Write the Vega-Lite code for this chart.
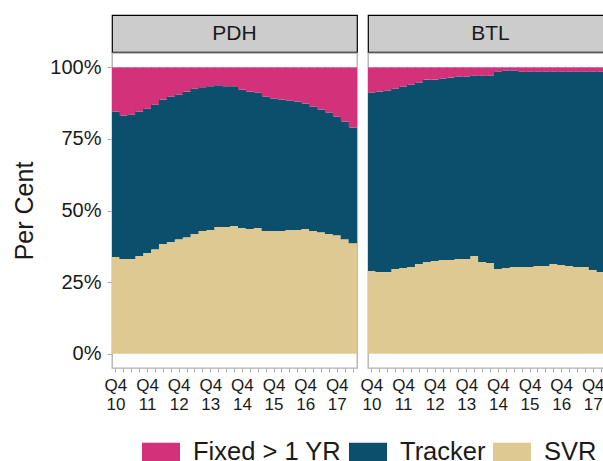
{
  "$schema": "https://vega.github.io/schema/vega-lite/v6.json",
  "padding": {"left": 12, "top": 14, "right": 0, "bottom": 0},
  "config": {
    "font": "Liberation Sans",
    "view": {"stroke": "#ADADAD", "strokeWidth": 1.3},
    "concat": {"spacing": 1},
    "axis": {"grid": false, "domain": false, "labelColor": "#1A1A1A", "titleColor": "#1A1A1A", "tickColor": "#ADADAD", "titleFontWeight": "normal"}
  },
  "datasets": {
    "shares": [
      {"panel": "PDH", "q": "Q4 10", "Fixed > 1 YR": 15.4, "Tracker": 50.8, "SVR": 33.8},
      {"panel": "PDH", "q": "Q1 11", "Fixed > 1 YR": 16.8, "Tracker": 50.1, "SVR": 33.1},
      {"panel": "PDH", "q": "Q2 11", "Fixed > 1 YR": 16.5, "Tracker": 50.4, "SVR": 33.1},
      {"panel": "PDH", "q": "Q3 11", "Fixed > 1 YR": 15.4, "Tracker": 50.5, "SVR": 34.1},
      {"panel": "PDH", "q": "Q4 11", "Fixed > 1 YR": 14.4, "Tracker": 50.4, "SVR": 35.2},
      {"panel": "PDH", "q": "Q1 12", "Fixed > 1 YR": 13.0, "Tracker": 50.5, "SVR": 36.5},
      {"panel": "PDH", "q": "Q2 12", "Fixed > 1 YR": 11.2, "Tracker": 50.5, "SVR": 38.3},
      {"panel": "PDH", "q": "Q3 12", "Fixed > 1 YR": 10.2, "Tracker": 50.8, "SVR": 39.0},
      {"panel": "PDH", "q": "Q4 12", "Fixed > 1 YR": 9.5, "Tracker": 50.5, "SVR": 40.0},
      {"panel": "PDH", "q": "Q1 13", "Fixed > 1 YR": 8.5, "Tracker": 50.8, "SVR": 40.7},
      {"panel": "PDH", "q": "Q2 13", "Fixed > 1 YR": 7.4, "Tracker": 50.8, "SVR": 41.8},
      {"panel": "PDH", "q": "Q3 13", "Fixed > 1 YR": 7.0, "Tracker": 50.2, "SVR": 42.8},
      {"panel": "PDH", "q": "Q4 13", "Fixed > 1 YR": 6.6, "Tracker": 50.2, "SVR": 43.2},
      {"panel": "PDH", "q": "Q1 14", "Fixed > 1 YR": 6.3, "Tracker": 49.5, "SVR": 44.2},
      {"panel": "PDH", "q": "Q2 14", "Fixed > 1 YR": 6.6, "Tracker": 49.2, "SVR": 44.2},
      {"panel": "PDH", "q": "Q3 14", "Fixed > 1 YR": 6.6, "Tracker": 48.8, "SVR": 44.6},
      {"panel": "PDH", "q": "Q4 14", "Fixed > 1 YR": 7.8, "Tracker": 48.3, "SVR": 43.9},
      {"panel": "PDH", "q": "Q1 15", "Fixed > 1 YR": 8.5, "Tracker": 48.0, "SVR": 43.5},
      {"panel": "PDH", "q": "Q2 15", "Fixed > 1 YR": 8.8, "Tracker": 47.3, "SVR": 43.9},
      {"panel": "PDH", "q": "Q3 15", "Fixed > 1 YR": 10.2, "Tracker": 47.0, "SVR": 42.8},
      {"panel": "PDH", "q": "Q4 15", "Fixed > 1 YR": 10.9, "Tracker": 46.3, "SVR": 42.8},
      {"panel": "PDH", "q": "Q1 16", "Fixed > 1 YR": 11.2, "Tracker": 46.0, "SVR": 42.8},
      {"panel": "PDH", "q": "Q2 16", "Fixed > 1 YR": 11.6, "Tracker": 45.2, "SVR": 43.2},
      {"panel": "PDH", "q": "Q3 16", "Fixed > 1 YR": 11.9, "Tracker": 44.9, "SVR": 43.2},
      {"panel": "PDH", "q": "Q4 16", "Fixed > 1 YR": 12.6, "Tracker": 43.9, "SVR": 43.5},
      {"panel": "PDH", "q": "Q1 17", "Fixed > 1 YR": 13.7, "Tracker": 43.5, "SVR": 42.8},
      {"panel": "PDH", "q": "Q2 17", "Fixed > 1 YR": 14.7, "Tracker": 42.9, "SVR": 42.4},
      {"panel": "PDH", "q": "Q3 17", "Fixed > 1 YR": 15.8, "Tracker": 42.4, "SVR": 41.8},
      {"panel": "PDH", "q": "Q4 17", "Fixed > 1 YR": 17.2, "Tracker": 41.4, "SVR": 41.4},
      {"panel": "PDH", "q": "Q1 18", "Fixed > 1 YR": 18.9, "Tracker": 41.1, "SVR": 40.0},
      {"panel": "PDH", "q": "Q2 18", "Fixed > 1 YR": 21.0, "Tracker": 40.4, "SVR": 38.6},
      {"panel": "BTL", "q": "Q4 10", "Fixed > 1 YR": 8.8, "Tracker": 62.3, "SVR": 28.9},
      {"panel": "BTL", "q": "Q1 11", "Fixed > 1 YR": 8.5, "Tracker": 63.0, "SVR": 28.5},
      {"panel": "BTL", "q": "Q2 11", "Fixed > 1 YR": 8.1, "Tracker": 63.4, "SVR": 28.5},
      {"panel": "BTL", "q": "Q3 11", "Fixed > 1 YR": 7.4, "Tracker": 63.0, "SVR": 29.6},
      {"panel": "BTL", "q": "Q4 11", "Fixed > 1 YR": 6.7, "Tracker": 63.4, "SVR": 29.9},
      {"panel": "BTL", "q": "Q1 12", "Fixed > 1 YR": 6.0, "Tracker": 63.7, "SVR": 30.3},
      {"panel": "BTL", "q": "Q2 12", "Fixed > 1 YR": 5.3, "Tracker": 63.4, "SVR": 31.3},
      {"panel": "BTL", "q": "Q3 12", "Fixed > 1 YR": 4.3, "Tracker": 63.7, "SVR": 32.0},
      {"panel": "BTL", "q": "Q4 12", "Fixed > 1 YR": 4.3, "Tracker": 63.3, "SVR": 32.4},
      {"panel": "BTL", "q": "Q1 13", "Fixed > 1 YR": 3.9, "Tracker": 63.4, "SVR": 32.7},
      {"panel": "BTL", "q": "Q2 13", "Fixed > 1 YR": 3.6, "Tracker": 63.7, "SVR": 32.7},
      {"panel": "BTL", "q": "Q3 13", "Fixed > 1 YR": 3.2, "Tracker": 63.7, "SVR": 33.1},
      {"panel": "BTL", "q": "Q4 13", "Fixed > 1 YR": 3.2, "Tracker": 63.7, "SVR": 33.1},
      {"panel": "BTL", "q": "Q1 14", "Fixed > 1 YR": 2.9, "Tracker": 63.0, "SVR": 34.1},
      {"panel": "BTL", "q": "Q2 14", "Fixed > 1 YR": 2.9, "Tracker": 65.1, "SVR": 32.0},
      {"panel": "BTL", "q": "Q3 14", "Fixed > 1 YR": 2.9, "Tracker": 65.4, "SVR": 31.7},
      {"panel": "BTL", "q": "Q4 14", "Fixed > 1 YR": 1.5, "Tracker": 68.9, "SVR": 29.6},
      {"panel": "BTL", "q": "Q1 15", "Fixed > 1 YR": 1.2, "Tracker": 68.9, "SVR": 29.9},
      {"panel": "BTL", "q": "Q2 15", "Fixed > 1 YR": 1.2, "Tracker": 68.5, "SVR": 30.3},
      {"panel": "BTL", "q": "Q3 15", "Fixed > 1 YR": 1.5, "Tracker": 68.2, "SVR": 30.3},
      {"panel": "BTL", "q": "Q4 15", "Fixed > 1 YR": 1.5, "Tracker": 68.2, "SVR": 30.3},
      {"panel": "BTL", "q": "Q1 16", "Fixed > 1 YR": 1.5, "Tracker": 67.9, "SVR": 30.6},
      {"panel": "BTL", "q": "Q2 16", "Fixed > 1 YR": 1.5, "Tracker": 67.9, "SVR": 30.6},
      {"panel": "BTL", "q": "Q3 16", "Fixed > 1 YR": 1.5, "Tracker": 67.2, "SVR": 31.3},
      {"panel": "BTL", "q": "Q4 16", "Fixed > 1 YR": 1.5, "Tracker": 67.5, "SVR": 31.0},
      {"panel": "BTL", "q": "Q1 17", "Fixed > 1 YR": 1.5, "Tracker": 67.9, "SVR": 30.6},
      {"panel": "BTL", "q": "Q2 17", "Fixed > 1 YR": 1.5, "Tracker": 68.2, "SVR": 30.3},
      {"panel": "BTL", "q": "Q3 17", "Fixed > 1 YR": 1.5, "Tracker": 68.2, "SVR": 30.3},
      {"panel": "BTL", "q": "Q4 17", "Fixed > 1 YR": 1.5, "Tracker": 69.3, "SVR": 29.2},
      {"panel": "BTL", "q": "Q1 18", "Fixed > 1 YR": 1.5, "Tracker": 70.0, "SVR": 28.5},
      {"panel": "BTL", "q": "Q2 18", "Fixed > 1 YR": 1.5, "Tracker": 70.3, "SVR": 28.2}
    ]
  },
  "hconcat": [
    {
      "spacing": 1,
      "bounds": "flush",
      "vconcat": [
        {
          "data": {"values": [{"panel": "PDH"}]},
          "width": 245,
          "height": 37,
          "view": {"fill": "#CCCCCC", "stroke": "#000000", "strokeWidth": 1.2},
          "mark": {"type": "text", "fontSize": 21, "color": "#1A1A1A"},
          "encoding": {"text": {"field": "panel"}}
        },
        {
          "data": {"name": "shares"},
          "transform": [
            {"filter": {"field": "panel", "equal": "PDH"}},
            {"fold": ["SVR", "Tracker", "Fixed > 1 YR"], "as": ["series", "share"]},
            {"window": [{"op": "row_number", "as": "layer"}], "groupby": ["q"]}
          ],
          "width": 245,
          "height": 315,
          "mark": {"type": "bar", "width": {"band": 1.12}, "clip": true},
          "encoding": {
            "x": {
              "field": "q", "type": "ordinal", "sort": null,
              "scale": {"paddingInner": 0, "paddingOuter": 0},
              "axis": {"title": null, "labelAngle": 0, "labelFontSize": 17, "labelLineHeight": 19, "tickSize": 4, "labelPadding": 5, "labelOverlap": false,
                       "labelExpr": "indexof(datum.value, 'Q4') == 0 ? split(datum.value, ' ') : ''"}
            },
            "y": {
              "field": "share", "type": "quantitative", "stack": "normalize",
              "scale": {"domain": [-0.05, 1.05], "nice": false},
              "axis": {"title": "Per Cent", "titleFontSize": 25, "titlePadding": 12, "labelFontSize": 20, "tickSize": 5, "labelPadding": 6,
                       "values": [0, 0.25, 0.5, 0.75, 1], "format": ".0%"}
            },
            "order": {"field": "layer", "type": "quantitative", "sort": "ascending"},
            "color": {
              "field": "series", "type": "nominal",
              "scale": {"domain": ["Fixed > 1 YR", "Tracker", "SVR"], "range": ["#D3317A", "#0B4F6C", "#DFC993"]},
              "legend": {"orient": "none", "direction": "horizontal", "legendX": 30, "legendY": 418, "title": null,
                         "symbolType": "M-1,-0.5H1V0.5H-1Z", "symbolSize": 1444, "symbolStrokeWidth": 0,
                         "labelFontSize": 25.5, "labelColor": "#1A1A1A", "labelOffset": 13, "columnPadding": 7, "padding": 0}
            }
          }
        }
      ]
    },
    {
      "spacing": 1,
      "bounds": "flush",
      "vconcat": [
        {
          "data": {"values": [{"panel": "BTL"}]},
          "width": 245,
          "height": 37,
          "view": {"fill": "#CCCCCC", "stroke": "#000000", "strokeWidth": 1.2},
          "mark": {"type": "text", "fontSize": 21, "color": "#1A1A1A"},
          "encoding": {"text": {"field": "panel"}}
        },
        {
          "data": {"name": "shares"},
          "transform": [
            {"filter": {"field": "panel", "equal": "BTL"}},
            {"fold": ["SVR", "Tracker", "Fixed > 1 YR"], "as": ["series", "share"]},
            {"window": [{"op": "row_number", "as": "layer"}], "groupby": ["q"]}
          ],
          "width": 245,
          "height": 315,
          "mark": {"type": "bar", "width": {"band": 1.12}, "clip": true},
          "encoding": {
            "x": {
              "field": "q", "type": "ordinal", "sort": null,
              "scale": {"paddingInner": 0, "paddingOuter": 0},
              "axis": {"title": null, "labelAngle": 0, "labelFontSize": 17, "labelLineHeight": 19, "tickSize": 4, "labelPadding": 5, "labelOverlap": false,
                       "labelExpr": "indexof(datum.value, 'Q4') == 0 ? split(datum.value, ' ') : ''"}
            },
            "y": {
              "field": "share", "type": "quantitative", "stack": "normalize",
              "scale": {"domain": [-0.05, 1.05], "nice": false},
              "axis": null
            },
            "order": {"field": "layer", "type": "quantitative", "sort": "ascending"},
            "color": {
              "field": "series", "type": "nominal",
              "scale": {"domain": ["Fixed > 1 YR", "Tracker", "SVR"], "range": ["#D3317A", "#0B4F6C", "#DFC993"]},
              "legend": null
            }
          }
        }
      ]
    }
  ],
  "resolve": {"scale": {"y": "independent", "x": "independent"}}
}
